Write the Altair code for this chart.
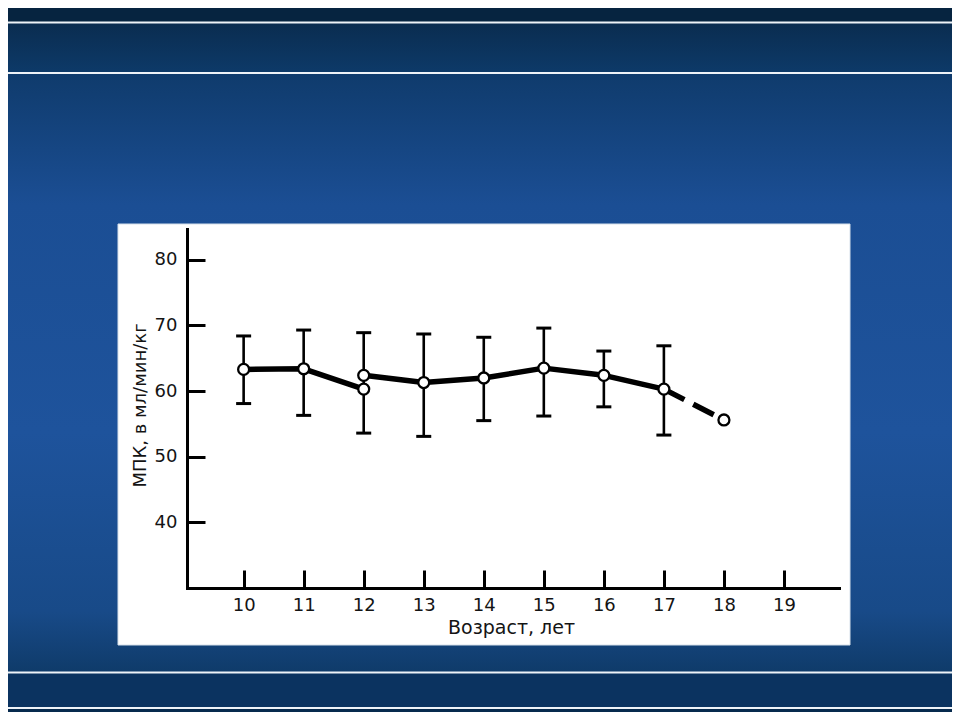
import altair as alt
import pandas as pd

# ---- data ----
ages = [10, 11, 12, 12, 13, 14, 15, 16, 17, 18]
vo2 = [63.3, 63.4, 60.3, 62.4, 61.3, 62.0, 63.5, 62.4, 60.3, 55.6]
segment = ["a", "a", "a", "b", "b", "b", "b", "b", "b", "c"]

err_ages = [10, 11, 12, 13, 14, 15, 16, 17]
err_low = [58.1, 56.3, 53.6, 53.1, 55.5, 56.2, 57.6, 53.3]
err_high = [68.4, 69.3, 68.9, 68.7, 68.2, 69.6, 66.1, 66.9]

x_ticks = [10, 11, 12, 13, 14, 15, 16, 17, 18, 19]
y_ticks = [40, 50, 60, 70, 80]
x_title = "Возраст, лет"
y_title = "МПК, в мл/мин/кг"

pts = pd.DataFrame({"age": ages, "vo2": vo2, "seg": segment})
solid = pts[pts["seg"] != "c"]
dashed = pd.DataFrame({"age": [ages[8], ages[9]], "vo2": [vo2[8], vo2[9]]})
errs = pd.DataFrame({"age": err_ages, "low": err_low, "high": err_high})

W, H = 655, 361
FONT = "DejaVu Sans"
INK = "#141414"

xs = alt.Scale(domain=[9.04, 19.95], nice=False, zero=False)
ys = alt.Scale(domain=[30, 85], nice=False, zero=False)

x_axis = alt.Axis(values=x_ticks, offset=-18, tickSize=18, tickWidth=3, tickColor="black",
                  domain=False, grid=False, labelPadding=8, labelFont=FONT, labelFontSize=18,
                  labelColor=INK, titleFont=FONT, titleFontSize=19, titleFontWeight="normal",
                  titleColor=INK, titleX=325, titleY=57, titleBaseline="middle",
                  titleAlign="center", zindex=1)
y_axis = alt.Axis(values=y_ticks, offset=-19, tickSize=19, tickWidth=3, tickColor="black",
                  domain=False, grid=False, labelPadding=9, labelFont=FONT, labelFontSize=18,
                  labelColor=INK, titleFont=FONT, titleFontSize=18, titleFontWeight="normal",
                  titleColor=INK, titleX=-65, titleY=178, titleAngle=270,
                  titleBaseline="middle", titleAlign="center", zindex=1)

def X(field="age"):
    return alt.X(f"{field}:Q", scale=xs, axis=x_axis, title=x_title)

def Y(field):
    return alt.Y(f"{field}:Q", scale=ys, axis=y_axis, title=y_title)

deco = alt.Data(values=[{"k": 0}])

def band(y0, y1, color):
    return alt.Chart(deco).mark_rect(color=color).encode(
        x=alt.value(-200), x2=alt.value(800), y=alt.value(y0), y2=alt.value(y1))

def hline(y):
    return alt.Chart(deco).mark_rule(color="#eef3f8", strokeWidth=2).encode(
        x=alt.value(-200), x2=alt.value(800), y=alt.value(y))

main_grad = {
    "gradient": "linear", "x1": 0, "x2": 0, "y1": 0, "y2": 1,
    "stops": [
        {"offset": 0, "color": "#0f3b6c"},
        {"offset": 0.22, "color": "#1b4e94"},
        {"offset": 0.6, "color": "#1e539c"},
        {"offset": 0.9, "color": "#184a88"},
        {"offset": 1, "color": "#0f3b6a"},
    ],
}
top_grad = {
    "gradient": "linear", "x1": 0, "x2": 0, "y1": 0, "y2": 1,
    "stops": [{"offset": 0, "color": "#0a2c4f"}, {"offset": 1, "color": "#0d3a69"}],
}

bg_main = alt.Chart(deco).mark_rect(color=main_grad).encode(
    x=alt.value(-200), x2=alt.value(800), y=alt.value(-154), y2=alt.value(445))
bg_top = band(-240, -205, "#062440")
bg_top2 = alt.Chart(deco).mark_rect(color=top_grad).encode(
    x=alt.value(-200), x2=alt.value(800), y=alt.value(-205), y2=alt.value(-154))
bg_bot = band(445, 481, "#0b3360")
bg_bot2 = band(481, 500, "#072a4d")

panel = alt.Chart(deco).mark_rect(color="white", stroke="#d6e0ea", strokeWidth=1).encode(
    x=alt.value(-68), x2=alt.value(664), y=alt.value(-3), y2=alt.value(418))

y_domain = alt.Chart(deco).mark_rule(color="black", strokeWidth=3).encode(
    x=alt.value(1.5), y=alt.value(1), y2=alt.value(362.5))
x_domain = alt.Chart(deco).mark_rule(color="black", strokeWidth=3).encode(
    x=alt.value(0), x2=alt.value(655), y=alt.value(361.5))

err_rule = alt.Chart(errs).mark_rule(color="black", strokeWidth=2.6).encode(
    x=X(), y=Y("low"), y2="high")
cap_low = alt.Chart(errs).mark_tick(color="black", orient="horizontal", size=15,
                                    thickness=3, opacity=1).encode(x=X(), y=Y("low"))
cap_high = alt.Chart(errs).mark_tick(color="black", orient="horizontal", size=15,
                                     thickness=3, opacity=1).encode(x=X(), y=Y("high"))

line_solid = alt.Chart(solid).mark_line(color="black", strokeWidth=5.5, strokeJoin="round").encode(
    x=X(), y=Y("vo2"), detail="seg:N")
line_dash = alt.Chart(dashed).mark_line(color="black", strokeWidth=5.5, strokeDash=[23, 10]).encode(
    x=X(), y=Y("vo2"))

points = alt.Chart(pts).mark_point(shape="circle", filled=True, color="white", stroke="black",
                                    strokeWidth=2.3, size=120, opacity=1).encode(
    x=X(), y=Y("vo2"))

chart = alt.layer(
    bg_main, bg_top, bg_top2, bg_bot, bg_bot2,
    hline(-204.5), hline(-154), hline(445.5), hline(481),
    panel, y_domain, x_domain,
    err_rule, cap_low, cap_high, line_solid, line_dash, points,
).properties(
    width=W, height=H,
    autosize=alt.AutoSizeParams(type="none"),
    padding={"left": 178, "top": 219, "right": 111, "bottom": 124},
    background="#1c4f93",
).configure_view(stroke=None)

chart.save("out.html", embed_options={"renderer": "svg", "actions": False})
